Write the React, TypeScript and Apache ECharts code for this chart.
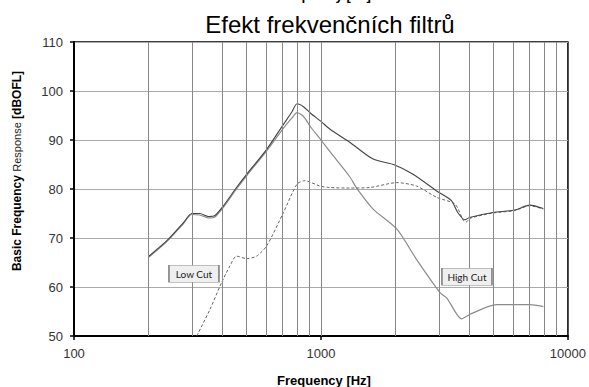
import React, { useEffect, useRef } from "react";
import * as echarts from "echarts";

// ---- data ----
const basicFreq = [200, 237, 277, 300, 323, 350, 372, 402, 455, 500, 603, 705, 760, 800, 850, 910, 1000, 1088, 1312, 1627, 1990, 2360, 2940, 3380, 3580, 3830, 4000, 4970, 6080, 7000, 7950];
const basicVal = [66.2, 69.4, 73.1, 75.0, 75.0, 74.4, 74.6, 76.5, 80.3, 83.0, 88.1, 93.2, 95.6, 97.4, 96.8, 95.4, 93.8, 92.2, 89.5, 86.1, 84.9, 83.0, 79.6, 77.6, 75.2, 73.7, 74.2, 75.2, 75.7, 76.7, 76.0];

const highCutFreq = [200, 237, 277, 300, 323, 350, 372, 402, 455, 500, 603, 705, 760, 800, 850, 910, 1000, 1120, 1312, 1390, 1627, 2030, 2440, 3040, 3230, 3710, 4000, 5140, 7000, 7950];
const highCutVal = [66.0, 69.2, 72.9, 74.8, 74.7, 74.1, 74.3, 76.2, 80.0, 82.7, 87.8, 92.4, 94.4, 95.6, 94.8, 92.6, 90.0, 86.8, 82.4, 80.3, 75.9, 71.8, 65.6, 58.8, 57.8, 53.5, 54.4, 56.4, 56.4, 56.0];

const lowCutFreq = [314, 355, 396, 428, 455, 500, 549, 603, 705, 800, 860, 990, 1088, 1312, 1576, 2030, 2440, 2940, 3490, 3780, 3890, 4000, 4970, 6080, 7000, 7950];
const lowCutVal = [50.0, 55.4, 60.9, 64.3, 66.3, 65.8, 66.3, 68.4, 75.2, 81.0, 81.7, 80.6, 80.3, 80.2, 80.3, 81.3, 80.6, 78.3, 76.9, 73.5, 73.3, 74.0, 75.1, 75.6, 76.6, 75.9];

const gridFreqs = [200, 300, 400, 500, 600, 700, 800, 900, 1000, 2000, 3000, 4000, 5000, 6000, 7000, 8000, 9000];

const annotationLabels = ["Low Cut", "High Cut"];
const annotationFreq = [306, 3900];
const annotationVal = [62.7, 62.1];

const titleText = "Efekt frekvenčních filtrů";
const xAxisTitle = "Frequency [Hz]";

const pairs = (xs: number[], ys: number[]) => xs.map((x, i) => [x, ys[i]]);

export default function App() {
  const ref = useRef<HTMLDivElement>(null);
  useEffect(() => {
    if (!ref.current) return;
    const chart = echarts.init(ref.current, undefined, { renderer: "svg" });
    chart.setOption({
      animation: false,
      backgroundColor: "#ffffff",
      grid: { left: 74, right: 21, top: 42, bottom: 51, show: true, borderColor: "#000", borderWidth: 1.5 },
      xAxis: {
        type: "log",
        logBase: 10,
        min: 100,
        max: 10000,
        axisLine: { show: true, lineStyle: { color: "#000", width: 2 } },
        axisTick: { show: true, length: 4, lineStyle: { color: "#000", width: 1.5 } },
        axisLabel: {
          fontSize: 13,
          color: "#333",
          margin: 11,
          fontFamily: "Liberation Sans, Arial, sans-serif",
          formatter: (v: number) => String(Math.round(v)),
        },
        splitLine: { show: false },
        minorTick: { show: false },
      },
      yAxis: {
        type: "value",
        min: 50,
        max: 110,
        interval: 10,
        axisLine: { show: true, lineStyle: { color: "#000", width: 2 } },
        axisTick: { show: true, length: 4, lineStyle: { color: "#000", width: 1.5 } },
        axisLabel: { fontSize: 13, color: "#333", margin: 11, fontFamily: "Liberation Sans, Arial, sans-serif" },
        splitLine: { show: true, lineStyle: { color: "#aaa", width: 1.2 } },
      },
      graphic: [
        {
          type: "text",
          x: 330,
          y: 24,
          style: {
            text: titleText,
            fontSize: 24,
            fontFamily: "Liberation Sans, Arial, sans-serif",
            fill: "#000",
            textAlign: "center",
            textVerticalAlign: "middle",
          },
        },
        {
          type: "text",
          x: 324,
          y: -5,
          style: {
            text: xAxisTitle,
            fontSize: 13,
            fontWeight: "bold",
            fontFamily: "Liberation Sans, Arial, sans-serif",
            fill: "#000",
            textAlign: "center",
            textVerticalAlign: "middle",
          },
        },
        {
          type: "text",
          x: 324,
          y: 380,
          style: {
            text: xAxisTitle,
            fontSize: 13,
            fontWeight: "bold",
            fontFamily: "Liberation Sans, Arial, sans-serif",
            fill: "#000",
            textAlign: "center",
            textVerticalAlign: "middle",
          },
        },
        {
          type: "text",
          x: 17,
          y: 171,
          rotation: Math.PI / 2,
          style: {
            text: "{b|Basic Frequency} {n|Response} {b|[dBOFL]}",
            textAlign: "center",
            textVerticalAlign: "middle",
            fill: "#000",
            rich: {
              b: { fontSize: 12, fontWeight: "bold", fontFamily: "Liberation Sans, Arial, sans-serif", fill: "#000" },
              n: { fontSize: 11, fontFamily: "Liberation Sans, Arial, sans-serif", fill: "#222" },
            },
          },
        },
      ],
      series: [
        {
          type: "line",
          name: "grid",
          data: [],
          silent: true,
          z: 1,
          markLine: {
            silent: true,
            symbol: ["none", "none"],
            label: { show: false },
            lineStyle: { type: "solid", color: "#888", width: 1 },
            data: gridFreqs.map((f) => ({ xAxis: f })),
          },
        },
        {
          type: "line",
          name: "High Cut",
          data: pairs(highCutFreq, highCutVal),
          showSymbol: false,
          smooth: 0.25,
          z: 3,
          lineStyle: { color: "#8c8c8c", width: 1.2 },
        },
        {
          type: "line",
          name: "Low Cut",
          data: pairs(lowCutFreq, lowCutVal),
          showSymbol: false,
          smooth: 0.25,
          z: 3,
          lineStyle: { color: "#666", width: 1, type: [3, 2] },
        },
        {
          type: "line",
          name: "Basic",
          data: pairs(basicFreq, basicVal),
          showSymbol: false,
          smooth: 0.25,
          z: 4,
          lineStyle: { color: "#444", width: 1.1 },
          markPoint: {
            silent: true,
            symbol: "rect",
            symbolSize: [50, 17],
            itemStyle: { color: "#efefef", borderColor: "#888", borderWidth: 1 },
            label: {
              show: true,
              position: "inside",
              fontSize: 10,
              color: "#222",
              fontFamily: "Lato, Open Sans, sans-serif",
              formatter: (p: any) => p.name,
            },
            data: annotationLabels.map((name, i) => ({ name, coord: [annotationFreq[i], annotationVal[i]] })),
          },
        },
      ],
    });
    return () => chart.dispose();
  }, []);
  return <div ref={ref} style={{ position: "fixed", left: 0, top: 0, width: 589, height: 387 }} />;
}
